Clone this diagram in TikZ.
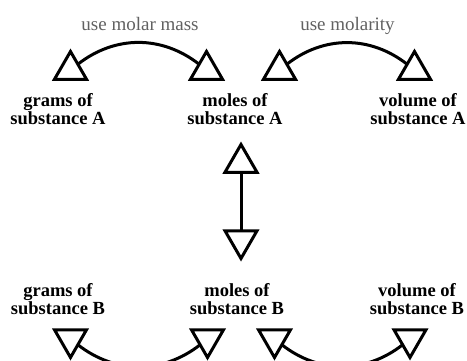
\documentclass[tikz,border=0pt]{standalone}
\usepackage{fontspec}
\setmainfont{Liberation Serif}
\usetikzlibrary{shapes.geometric}
\begin{document}
\begin{tikzpicture}[x=1pt,y=1pt,
  tri/.style={draw, regular polygon, regular polygon sides=3, minimum size=37pt,
    inner sep=0pt, outer sep=0pt, line width=3pt, line join=miter},
  tridown/.style={tri, shape border rotate=180},
  link/.style={line width=3pt},
  qty/.style={font=\fontsize{18.5}{18}\selectfont\bfseries, align=center,
    anchor=base, inner sep=0pt},
  hint/.style={font=\fontsize{19}{19}\selectfont, text=black!62,
    anchor=base, inner sep=0pt}]
\useasboundingbox (0,0) rectangle (467,360);
\clip (0,0) rectangle (467,360);

% conversion hints
\node[hint] (hmass) at (140,330) {use molar mass};
\node[hint] (hmol)  at (347.5,330) {use molarity};

% substance A row
\node[tri] (tgA)  at (70.5,290) {};
\node[tri] (tmA1) at (206.5,290) {};
\node[tri] (tmA2) at (279.5,290) {};
\node[tri] (tvA)  at (414.5,290) {};
\node[qty] (gA) at (58,236)  {grams of\\substance A};
\node[qty] (mA) at (235,236) {moles of\\substance A};
\node[qty] (vA) at (418,236) {volume of\\substance A};

% mole ratio link
\node[tri]     (tup)   at (241,197) {};
\node[tridown] (tdown) at (241,120) {};

% substance B row
\node[qty] (gB) at (58,46)  {grams of\\substance B};
\node[qty] (mB) at (237,46) {moles of\\substance B};
\node[qty] (vB) at (417,46) {volume of\\substance B};
\node[tridown] (tgB)  at (70.5,21) {};
\node[tridown] (tmB1) at (207.5,21) {};
\node[tridown] (tmB2) at (274.5,21) {};
\node[tridown] (tvB)  at (410,21) {};

% connectors
\draw[link] (tgA) to[out=38,in=142] (tmA1);
\draw[link] (tmA2) to[out=38,in=142] (tvA);
\draw[link] (tup) -- (tdown);
\draw[link] (tgB) to[out=-38,in=-142] (tmB1);
\draw[link] (tmB2) to[out=-38,in=-142] (tvB);
\end{tikzpicture}
\end{document}
